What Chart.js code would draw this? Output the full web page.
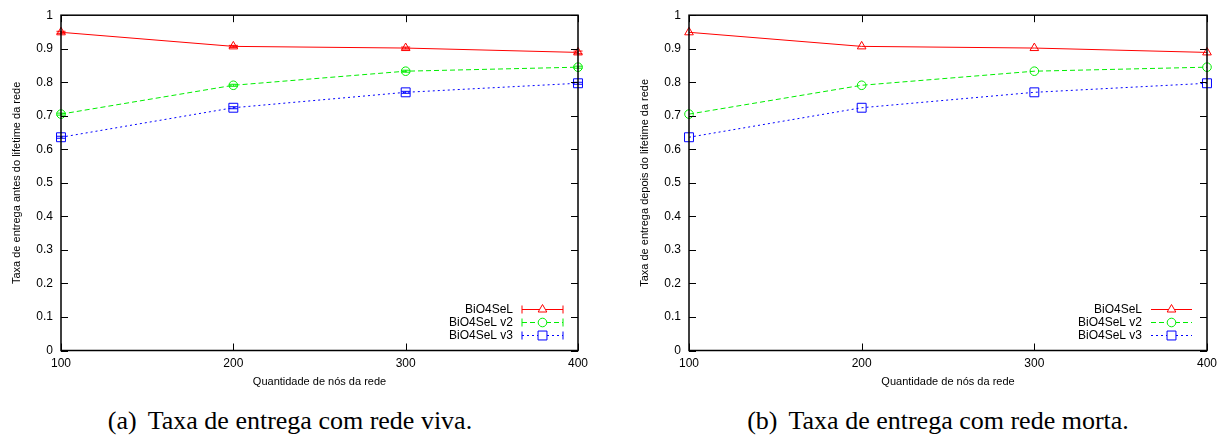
<!DOCTYPE html>
<html>
<head>
<meta charset="utf-8">
<script src="https://cdn.jsdelivr.net/npm/chart.js@4.4.1/dist/chart.umd.min.js"></script>
<style>
  body { margin: 0; background: #fff; width: 1229px; height: 437px; position: relative; overflow: hidden; }
  .box { position: absolute; top: 0; height: 395px; }
  .cap { position: absolute; top: 408px; font-family: "Liberation Serif", "Times New Roman", serif; font-size: 26px; line-height: 26px; white-space: nowrap; transform: translateX(-50%); color: #000; }
  .cap span { margin-right: 11px; }
</style>
</head>
<body>
<div class="box" style="left:0;width:614px"><canvas id="chartA"></canvas></div>
<div class="box" style="left:628px;width:601px"><canvas id="chartB"></canvas></div>
<div class="cap" style="left:290px"><span>(a)</span>Taxa de entrega com rede viva.</div>
<div class="cap" style="left:938px"><span>(b)</span>Taxa de entrega com rede morta.</div>

<script>
// data
var nodes = [100, 200, 300, 400];
var xTickLabels = ['100', '200', '300', '400'];
var yTickLabels = ['0', '0.1', '0.2', '0.3', '0.4', '0.5', '0.6', '0.7', '0.8', '0.9', '1'];
var seriesNames = ['BiO4SeL', 'BiO4SeL v2', 'BiO4SeL v3'];

// (a) antes do lifetime
var vivaV1 = [0.949, 0.907, 0.902, 0.889];
var vivaV2 = [0.705, 0.791, 0.833, 0.845];
var vivaV3 = [0.636, 0.724, 0.770, 0.797];
var vivaErrV1 = [0.003, 0.003, 0.003, 0.004];
var vivaErrV2 = [0.003, 0.003, 0.003, 0.003];
var vivaErrV3 = [0.003, 0.003, 0.003, 0.003];

// (b) depois do lifetime
var mortaV1 = [0.949, 0.907, 0.902, 0.889];
var mortaV2 = [0.705, 0.791, 0.833, 0.845];
var mortaV3 = [0.636, 0.724, 0.770, 0.797];

var FONT = "'Liberation Sans', Arial, Helvetica, sans-serif";
var styles = [
    { color: '#ff0000', dash: [], point: 'triangle', radius: 5 },
    { color: '#00ee00', dash: [5, 3], point: 'circle', radius: 4.3 },
    { color: '#0000ff', dash: [2, 3], point: 'rect', radius: 6.3 }
];

function points(vals) {
    return nodes.map(function (n, i) { return { x: n, y: vals[i] }; });
}

// gnuplot style frame, inner ticks on all sides, legend inside
var gnuFrame = {
    id: 'gnuFrame',
    afterDatasetsDraw: function (chart) {
        var ctx = chart.ctx, a = chart.chartArea;
        var xs = chart.scales.x, ys = chart.scales.y;
        var errs = chart.options.plugins.gnuFrame.errors;
        ctx.save();

        // error bars
        if (errs) {
            chart.data.datasets.forEach(function (ds, d) {
                ctx.strokeStyle = ds.borderColor;
                ctx.lineWidth = 1;
                ctx.setLineDash([]);
                ds.data.forEach(function (p, i) {
                    var px = xs.getPixelForValue(p.x);
                    var y1 = ys.getPixelForValue(p.y - errs[d][i]);
                    var y2 = ys.getPixelForValue(p.y + errs[d][i]);
                    ctx.beginPath();
                    ctx.moveTo(px, y1); ctx.lineTo(px, y2);
                    ctx.moveTo(px - 4.5, y1); ctx.lineTo(px + 4.5, y1);
                    ctx.moveTo(px - 4.5, y2); ctx.lineTo(px + 4.5, y2);
                    ctx.stroke();
                });
            });
        }

        // ticks
        ctx.strokeStyle = '#000';
        ctx.lineWidth = 1;
        ctx.beginPath();
        ys.ticks.forEach(function (t) {
            var py = Math.round(ys.getPixelForValue(t.value)) + 0.5;
            ctx.moveTo(a.left, py); ctx.lineTo(a.left + 7, py);
            ctx.moveTo(a.right, py); ctx.lineTo(a.right - 7, py);
        });
        xs.ticks.forEach(function (t) {
            var px = Math.round(xs.getPixelForValue(t.value)) + 0.5;
            ctx.moveTo(px, a.bottom); ctx.lineTo(px, a.bottom - 7);
            ctx.moveTo(px, a.top); ctx.lineTo(px, a.top + 7);
        });
        ctx.stroke();

        // frame
        ctx.lineWidth = 1.5;
        ctx.strokeRect(a.left, a.top, a.right - a.left, a.bottom - a.top);

        // legend
        ctx.font = '12px ' + FONT;
        ctx.textAlign = 'right';
        ctx.textBaseline = 'middle';
        chart.data.datasets.forEach(function (ds, d) {
            var y = a.bottom - 41 + d * 13;
            var x0 = a.right - 56, x1 = a.right - 15, xm = (x0 + x1) / 2;
            ctx.fillStyle = '#000';
            ctx.fillText(ds.label, a.right - 65, y);
            ctx.strokeStyle = ds.borderColor;
            ctx.lineWidth = 1;
            ctx.setLineDash(ds.borderDash);
            ctx.beginPath();
            ctx.moveTo(x0, y); ctx.lineTo(x1, y);
            ctx.stroke();
            ctx.setLineDash([]);
            if (errs) {
                ctx.beginPath();
                ctx.moveTo(x0, y - 4); ctx.lineTo(x0, y + 4);
                ctx.moveTo(x1, y - 4); ctx.lineTo(x1, y + 4);
                ctx.stroke();
            }
            ctx.fillStyle = '#fff';
            Chart.helpers.drawPoint(ctx, {
                pointStyle: ds.pointStyle, radius: ds.pointRadius, borderWidth: 1, rotation: 0
            }, xm, y);
        });
        ctx.restore();
    }
};

function makeChart(id, yTitle, seriesVals, errors, axisWidth, padRight) {
    var datasets = seriesVals.map(function (vals, i) {
        var s = styles[i];
        return {
            label: seriesNames[i],
            data: points(vals),
            borderColor: s.color,
            backgroundColor: 'rgba(0,0,0,0)',
            borderWidth: 1,
            borderDash: s.dash,
            pointStyle: s.point,
            pointRadius: s.radius,
            pointBorderWidth: 1,
            pointBorderColor: s.color,
            pointBackgroundColor: 'rgba(0,0,0,0)',
            tension: 0,
            clip: false
        };
    });

    return new Chart(document.getElementById(id).getContext('2d'), {
        type: 'line',
        data: { datasets: datasets },
        options: {
            responsive: true,
            maintainAspectRatio: false,
            animation: false,
            layout: { padding: { top: 15, right: padRight, bottom: 0, left: 0 } },
            plugins: {
                legend: { display: false },
                tooltip: { enabled: false },
                gnuFrame: { errors: errors }
            },
            scales: {
                x: {
                    type: 'linear',
                    min: 100,
                    max: 400,
                    grid: { display: false, drawTicks: false },
                    border: { display: false },
                    ticks: {
                        stepSize: 100,
                        padding: 6,
                        color: '#000',
                        font: { family: FONT, size: 12 },
                        callback: function (v, i) { return xTickLabels[i]; }
                    },
                    title: {
                        display: true,
                        text: 'Quantidade de nós da rede',
                        color: '#000',
                        font: { family: FONT, size: 11 },
                        padding: { top: 0, bottom: 6.4 }
                    },
                    afterFit: function (s) { s.height = 44.5; }
                },
                y: {
                    min: 0,
                    max: 1,
                    grid: { display: false, drawTicks: false },
                    border: { display: false },
                    ticks: {
                        stepSize: 0.1,
                        padding: 8,
                        color: '#000',
                        font: { family: FONT, size: 12 },
                        callback: function (v, i) { return yTickLabels[i]; }
                    },
                    title: {
                        display: true,
                        text: yTitle,
                        color: '#000',
                        font: { family: FONT, size: 11 },
                        padding: { top: 10.4, bottom: 0 }
                    },
                    afterFit: function (s) { s.width = axisWidth; }
                }
            }
        },
        plugins: [gnuFrame]
    });
}

makeChart('chartA', 'Taxa de entrega antes do lifetime da rede',
    [vivaV1, vivaV2, vivaV3], [vivaErrV1, vivaErrV2, vivaErrV3], 61, 36);
makeChart('chartB', 'Taxa de entrega depois do lifetime da rede',
    [mortaV1, mortaV2, mortaV3], null, 61, 22);
</script>
</body>
</html>
